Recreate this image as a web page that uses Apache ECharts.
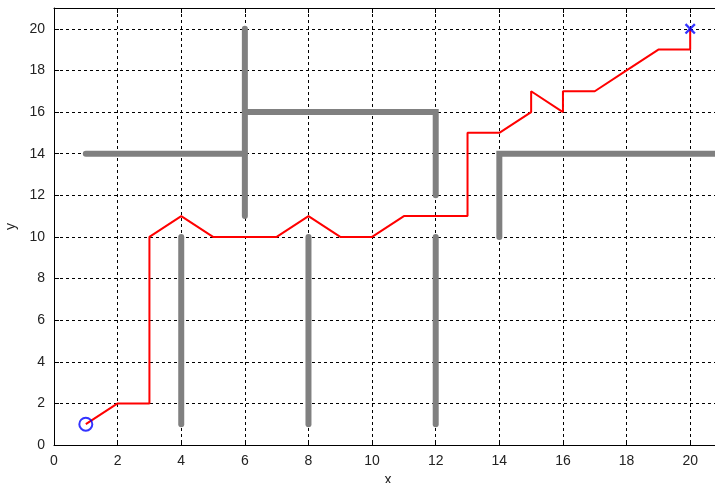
<!DOCTYPE html>
<html>
<head>
<meta charset="utf-8">
<script src="https://cdn.jsdelivr.net/npm/echarts@6/dist/echarts.min.js"></script>
<style>html,body{margin:0;padding:0;background:#fff}#c{width:715px;height:483px}</style>
</head>
<body>
<div id="c"></div>
<script>
// Data
var xTicks = [0, 2, 4, 6, 8, 10, 12, 14, 16, 18, 20];
var yTicks = [0, 2, 4, 6, 8, 10, 12, 14, 16, 18, 20];
var pathPoints = [[1,1],[2,2],[3,2],[3,10],[4,11],[5,10],[7,10],[8,11],[9,10],[10,10],[11,11],[13,11],[13,15],[14,15],[15,16],[15,17],[16,16],[16,17],[17,17],[18,18],[19,19],[20,19],[20,20]];
var obstacle1 = [[4,1],[4,10]];
var obstacle2 = [[8,1],[8,10]];
var obstacle3 = [[12,1],[12,10]];
var obstacle4 = [[1,14],[6,14]];
var obstacle5 = [[6,11],[6,20]];
var obstacle6 = [[6,16],[12,16],[12,12]];
var obstacle7 = [[14,10],[14,14],[21,14]];
var startPoint = [[1,1]];
var goalPoint = [[20,20]];

var obstacles = [obstacle1, obstacle2, obstacle3, obstacle4, obstacle5, obstacle6, obstacle7];

var font = 'Liberation Sans, Arial, sans-serif';
var labelFmt = function (v) { return (xTicks.indexOf(v) >= 0) ? String(v) : ''; };

function axisCommon(extra) {
  var base = {
    type: 'value', min: 0, max: 21, interval: 2,
    axisLine: { show: true, onZero: false, lineStyle: { color: '#000', width: 1 } },
    axisTick: { show: true, inside: true, length: 5, lineStyle: { color: '#000' } },
    splitLine: { show: false },
    axisLabel: { show: false }
  };
  for (var k in extra) base[k] = extra[k];
  return base;
}

var series = [];
obstacles.forEach(function (ob) {
  series.push({
    type: 'line', data: ob, symbol: 'none', silent: true, z: 2,
    lineStyle: { color: '#808080', width: 6, cap: 'round', join: 'miter' }
  });
});
series.push({
  type: 'line', data: pathPoints, symbol: 'none', z: 3,
  lineStyle: { color: '#ff0000', width: 2 }
});
series.push({
  type: 'scatter', data: startPoint, symbol: 'circle', symbolSize: 13, z: 4,
  itemStyle: { color: 'rgba(0,0,0,0)', borderColor: '#0000ff', borderWidth: 2 }
});
series.push({
  type: 'scatter', data: goalPoint, z: 4,
  symbol: 'path://M1.5,0L5,3.5L8.5,0L10,1.5L6.5,5L10,8.5L8.5,10L5,6.5L1.5,10L0,8.5L3.5,5L0,1.5Z',
  symbolSize: 11, itemStyle: { color: '#0000ff' }
});

var chart = echarts.init(document.getElementById('c'));
chart.setOption({
  animation: false,
  backgroundColor: '#fff',
  grid: { left: 54, top: 8, bottom: 38, right: -7, outerBoundsMode: 'none', containLabel: false },
  xAxis: [
    axisCommon({
      position: 'bottom',
      name: 'x', nameLocation: 'middle', nameGap: 26,
      nameTextStyle: { color: '#222', fontSize: 14, fontFamily: font },
      axisLabel: { show: true, color: '#222', fontSize: 14, fontFamily: font, margin: 9, formatter: labelFmt },
      splitLine: { show: true, lineStyle: { color: '#000', width: 1, type: [3, 3] } }
    }),
    axisCommon({ position: 'top' })
  ],
  yAxis: [
    axisCommon({
      position: 'left',
      name: 'y', nameLocation: 'middle', nameGap: 34,
      nameTextStyle: { color: '#222', fontSize: 14, fontFamily: font },
      axisLabel: { show: true, color: '#222', fontSize: 14, fontFamily: font, margin: 9, formatter: labelFmt },
      splitLine: { show: true, lineStyle: { color: '#000', width: 1, type: [3, 3] } }
    }),
    axisCommon({ position: 'right' })
  ],
  series: series
});
</script>
</body>
</html>
